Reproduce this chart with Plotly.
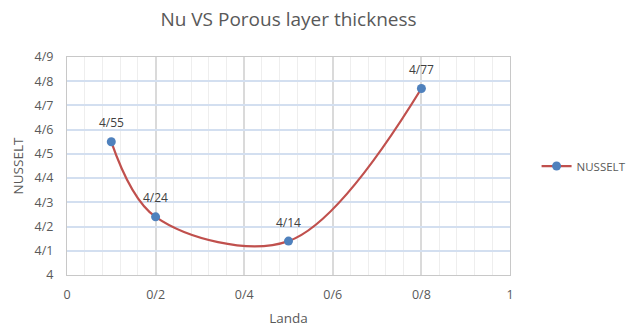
import plotly.graph_objects as go

landa = [0.1, 0.2, 0.5, 0.8]
nusselt = [4.55, 4.24, 4.14, 4.77]
point_labels = ["4/55", "4/24", "4/14", "4/77"]

x_tickvals = [0, 0.2, 0.4, 0.6, 0.8, 1.0]
x_ticktext = ["0", "0/2", "0/4", "0/6", "0/8", "1"]
y_tickvals = [4.0, 4.1, 4.2, 4.3, 4.4, 4.5, 4.6, 4.7, 4.8, 4.9]
y_ticktext = ["4", "4/1", "4/2", "4/3", "4/4", "4/5", "4/6", "4/7", "4/8", "4/9"]

font = "Open Sans"
grey = "#595959"

fig = go.Figure()
fig.add_trace(go.Scatter(
    x=landa, y=nusselt, name="NUSSELT",
    mode="lines+markers",
    line=dict(color="#C0504D", width=2.25, shape="spline", smoothing=1),
    marker=dict(color="#4F81BD", size=9),
))

for xv, yv, lab in zip(landa, nusselt, point_labels):
    fig.add_annotation(x=xv, y=yv, text=lab, showarrow=False, yshift=19,
                       font=dict(family=font, size=12, color="#404040"))

fig.update_layout(
    width=627, height=327,
    margin=dict(l=67, r=117, t=57, b=52, autoexpand=False),
    paper_bgcolor="white", plot_bgcolor="white",
    title=dict(text="Nu VS Porous layer thickness", x=0.5, xref="paper", xanchor="center",
               y=0.94, yref="container", yanchor="middle",
               font=dict(family=font, size=19, color=grey)),
    font=dict(family=font, color=grey),
    showlegend=True,
    legend=dict(x=1.06, y=0.5, xanchor="left", yanchor="middle",
                font=dict(family=font, size=11.5, color=grey), bgcolor="rgba(0,0,0,0)",
                itemwidth=30),
    xaxis=dict(range=[0, 1], tickvals=x_tickvals, ticktext=x_ticktext,
               showgrid=True, gridcolor="#dadada", gridwidth=1.5,
               minor=dict(dtick=0.04, tick0=0, showgrid=True, gridcolor="#eeeeee", gridwidth=1),
               showline=True, linecolor="#c8c8c8", linewidth=1, mirror=True,
               zeroline=False, ticks="", ticklabelstandoff=8,
               tickfont=dict(family=font, size=12.5, color=grey),
               title=dict(text="Landa", font=dict(family=font, size=13.5, color=grey), standoff=12)),
    yaxis=dict(range=[4.0, 4.9], tickvals=y_tickvals, ticktext=y_ticktext,
               showgrid=True, gridcolor="#d3dff0", gridwidth=1.5,
               showline=True, linecolor="#c8c8c8", linewidth=1, mirror=True,
               zeroline=False, ticks="", ticklabelstandoff=10,
               tickfont=dict(family=font, size=12.5, color=grey),
               title=dict(text="NUSSELT", font=dict(family=font, size=13.5, color=grey), standoff=7)),
)

fig.write_html("out.html")
